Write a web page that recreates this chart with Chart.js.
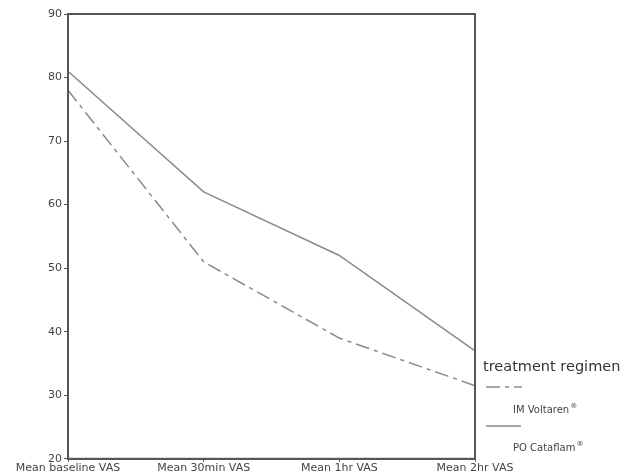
<!DOCTYPE html>
<html>
<head>
<meta charset="utf-8">
<script src="https://cdn.jsdelivr.net/npm/chart.js@4"></script>
<style>
  html, body { margin: 0; padding: 0; background: #fff; }
  #wrap { width: 623px; height: 475px; position: relative; }
</style>
</head>
<body>
<div id="wrap"><canvas id="vas-chart"></canvas></div>
<script>
const timepoints = ['Mean baseline VAS', 'Mean 30min VAS', 'Mean 1hr VAS', 'Mean 2hr VAS'];
const imVoltaren = [78, 51, 39, 31.5];
const poCataflam = [81, 62, 52, 37];
const yTicks = [20, 30, 40, 50, 60, 70, 80, 90];
const legendTitle = 'treatment regimen';
const seriesNames = ['IM Voltaren', 'PO Cataflam'];

const lineColor = '#8a8a8a';
const axisColor = '#555';
const dashDot = [14, 5, 4, 5];

// frame round the plot + custom legend on the right
const framePlugin = {
    id: 'frame',
    afterDraw(chart) {
        const { ctx, chartArea: a } = chart;
        ctx.save();
        ctx.strokeStyle = axisColor;
        ctx.lineWidth = 2;
        ctx.strokeRect(a.left, a.top, a.right - a.left, a.bottom - a.top);

        // legend
        ctx.fillStyle = '#333';
        ctx.font = '14.5px "DejaVu Sans"';
        ctx.textBaseline = 'middle';
        ctx.fillText(legendTitle, a.right + 8, 367);

        ctx.strokeStyle = lineColor;
        ctx.lineWidth = 1.5;
        ctx.setLineDash(dashDot);
        ctx.beginPath();
        ctx.moveTo(a.right + 11, 387);
        ctx.lineTo(a.right + 47, 387);
        ctx.stroke();
        ctx.setLineDash([]);
        ctx.beginPath();
        ctx.moveTo(a.right + 11, 426);
        ctx.lineTo(a.right + 46, 426);
        ctx.stroke();

        ctx.fillStyle = '#444';
        [[seriesNames[0], 410], [seriesNames[1], 448]].forEach(([name, y]) => {
            ctx.font = '10px "DejaVu Sans"';
            ctx.fillText(name, a.right + 38, y);
            const w = ctx.measureText(name).width;
            ctx.font = '7px "DejaVu Sans"';
            ctx.fillText('®', a.right + 39 + w, y - 4);
        });
        ctx.restore();
    }
};

const ctx = document.getElementById('vas-chart').getContext('2d');
const vasChart = new Chart(ctx, {
    type: 'line',
    data: {
        labels: timepoints,
        datasets: [
            {
                label: seriesNames[0],
                data: imVoltaren,
                borderColor: lineColor,
                borderWidth: 1.5,
                borderDash: dashDot,
                pointRadius: 0,
                tension: 0,
                fill: false
            },
            {
                label: seriesNames[1],
                data: poCataflam,
                borderColor: lineColor,
                borderWidth: 1.5,
                pointRadius: 0,
                tension: 0,
                fill: false
            }
        ]
    },
    options: {
        responsive: true,
        maintainAspectRatio: false,
        animation: false,
        layout: { padding: { top: 14, right: 148, left: 0, bottom: 0 } },
        plugins: {
            legend: { display: false },
            tooltip: { enabled: false }
        },
        scales: {
            x: {
                offset: false,
                grid: { display: true, drawOnChartArea: false, tickLength: 3, color: axisColor },
                border: { color: axisColor, width: 2 },
                ticks: {
                    color: '#444',
                    font: { family: 'DejaVu Sans', size: 11 },
                    maxRotation: 0,
                    autoSkip: false,
                    padding: 0
                }
            },
            y: {
                min: 20,
                max: 90,
                afterBuildTicks(scale) {
                    scale.ticks = yTicks.map(v => ({ value: v }));
                },
                grid: { display: true, drawOnChartArea: false, tickLength: 4, color: axisColor },
                border: { color: axisColor, width: 2 },
                ticks: {
                    color: '#444',
                    font: { family: 'DejaVu Sans', size: 11 },
                    padding: 2
                },
                afterFit(scale) { scale.width = 68; }
            }
        }
    },
    plugins: [framePlugin]
});
</script>
</body>
</html>
